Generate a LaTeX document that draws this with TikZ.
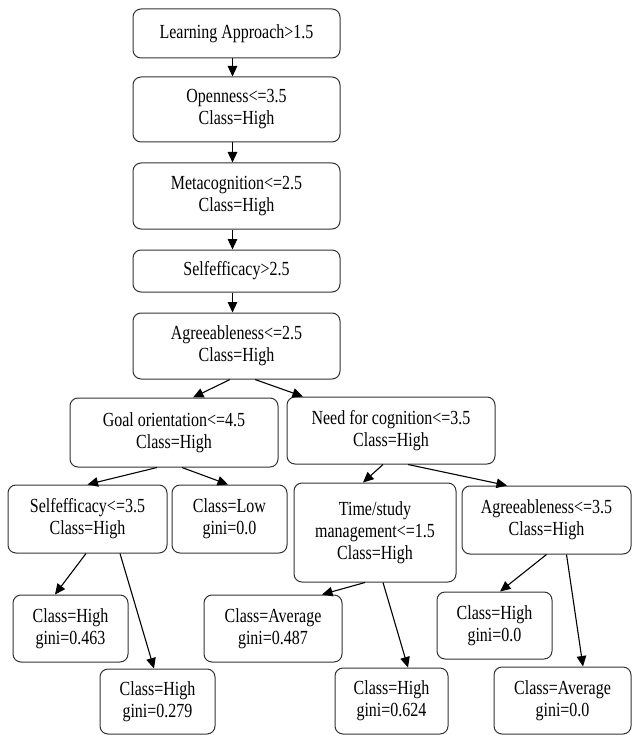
\documentclass[tikz,border=0pt]{standalone}
\usepackage{fontspec}
\newfontfamily\treefont[FakeStretch=0.8]{Liberation Serif}
\usepackage{tikz}
\usetikzlibrary{arrows.meta}

\begin{document}
\begin{tikzpicture}[
        x=1pt, y=-1pt,
        split/.style={
            rectangle,
            rounded corners=8pt,
            draw=black!80,
            line width=1pt,
            fill=white,
            align=center,
            inner sep=0pt,
            font=\treefont\fontsize{20}{22}\selectfont
        },
        sz/.style 2 args={minimum width=#1, minimum height=#2},
        arr/.style={-{Triangle[length=10.5pt, width=9.5pt]}, line width=1.1pt}
    ]
        \useasboundingbox (0,0) rectangle (632,735);
        \node[split, sz={207pt}{49pt}] (lapp) at (236.5,33.5) {Learning Approach>1.5};
        \node[split, sz={207pt}{65pt}] (open) at (236.5,109.5) {Openness<=3.5\\ Class=High};
        \node[split, sz={207pt}{66pt}] (meta) at (236.5,196) {Metacognition<=2.5\\ Class=High};
        \node[split, sz={207pt}{42pt}] (self1) at (236.5,271) {Selfefficacy>2.5};
        \node[split, sz={207pt}{66pt}] (agr1) at (236.5,346) {Agreeableness<=2.5\\ Class=High};
        \node[split, sz={208pt}{69pt}] (goal) at (174,432.5) {Goal orientation<=4.5\\ Class=High};
        \node[split, sz={208pt}{67pt}] (need) at (391,430.5) {Need for cognition<=3.5\\ Class=High};
        \node[split, sz={159pt}{68pt}] (self2) at (87.5,519) {Selfefficacy<=3.5\\ Class=High};
        \node[split, sz={115pt}{68pt}] (low) at (229.5,519) {Class=Low\\ gini=0.0};
        \node[split, sz={162pt}{99pt}] (time) at (375,532.5) {Time/study\\ management<=1.5\\ Class=High};
        \node[split, sz={169pt}{68pt}] (agr2) at (546.5,520) {Agreeableness<=3.5\\ Class=High};
        \node[split, sz={115pt}{67pt}] (h463) at (70.5,628.5) {Class=High\\ gini=0.463};
        \node[split, sz={115pt}{65pt}] (h279) at (157.5,701.5) {Class=High\\ gini=0.279};
        \node[split, sz={138pt}{67pt}] (a487) at (273,628.5) {Class=Average\\ gini=0.487};
        \node[split, sz={113pt}{66pt}] (h624) at (391.5,701) {Class=High\\ gini=0.624};
        \node[split, sz={115pt}{67pt}] (h00) at (494.5,625.5) {Class=High\\ gini=0.0};
        \node[split, sz={137pt}{67pt}] (a00) at (562.5,700.5) {Class=Average\\ gini=0.0};
        \draw[arr] ([xshift=-4pt]lapp.south) -- ([xshift=-4pt]open.north);
        \draw[arr] ([xshift=-4pt]open.south) -- ([xshift=-4pt]meta.north);
        \draw[arr] ([xshift=-4pt]meta.south) -- ([xshift=-4pt]self1.north);
        \draw[arr] ([xshift=-4pt]self1.south) -- ([xshift=-4pt]agr1.north);
        \draw[arr] ([xshift=-6.5pt]agr1.south) -- ([xshift=19pt]goal.north);
        \draw[arr] ([xshift=18.5pt]agr1.south) -- ([xshift=-88pt]need.north);
        \draw[arr] ([xshift=-17pt]goal.south) -- (self2.north);
        \draw[arr] ([xshift=8pt]goal.south) -- ([xshift=-1.5pt]low.north);
        \draw[arr] ([xshift=-8pt]need.south) -- ([xshift=-12pt]time.north);
        \draw[arr] ([xshift=17pt]need.south) -- ([xshift=-39.5pt]agr2.north);
        \draw[arr] ([xshift=-1.5pt]self2.south) -- ([xshift=-15.5pt]h463.north);
        \draw[arr] ([xshift=32.5pt]self2.south) -- ([xshift=-3.5pt]h279.north);
        \draw[arr] ([xshift=-10pt]time.south) -- ([xshift=49pt]a487.north);
        \draw[arr] ([xshift=8pt]time.south) -- ([xshift=16.5pt]h624.north);
        \draw[arr] (agr2.south) -- ([xshift=5.5pt]h00.north);
        \draw[arr] ([xshift=20pt]agr2.south) -- ([xshift=20.5pt]a00.north);
    \end{tikzpicture}
\end{document}
